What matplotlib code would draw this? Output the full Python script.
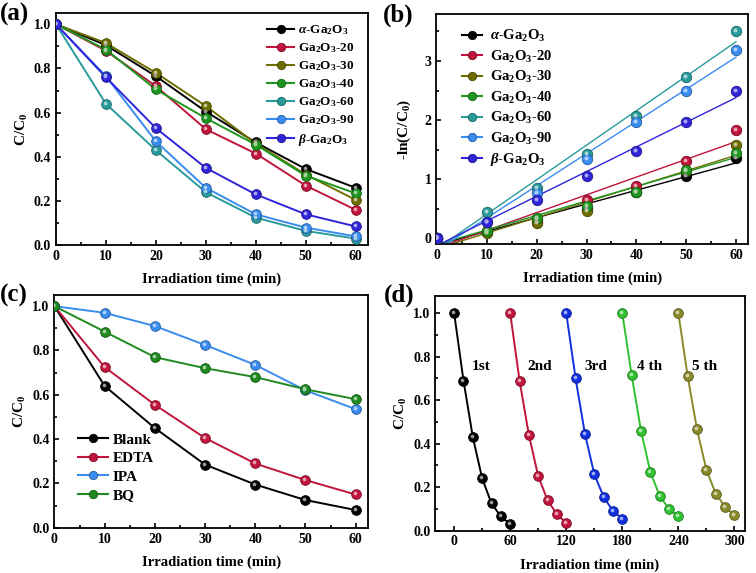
import numpy as np
import matplotlib
matplotlib.use("Agg")
import matplotlib.pyplot as plt
import matplotlib.transforms as mtransforms
from matplotlib.ticker import MultipleLocator

plt.rcParams['font.family'] = ['Liberation Serif', 'DejaVu Serif']
plt.rcParams['font.weight'] = 'bold'
plt.rcParams['mathtext.fontset'] = 'custom'
plt.rcParams['mathtext.rm'] = 'Liberation Serif:bold'
plt.rcParams['mathtext.it'] = 'Liberation Serif:italic:bold'
plt.rcParams['mathtext.bf'] = 'Liberation Serif:bold'
plt.rcParams['axes.linewidth'] = 1.3

# ---------------- data ----------------
time = [0, 10, 20, 30, 40, 50, 60]

labels_a = [r'$\alpha$-Ga$_2$O$_3$', 'Ga$_2$O$_3$-20', 'Ga$_2$O$_3$-30', 'Ga$_2$O$_3$-40',
            'Ga$_2$O$_3$-60', 'Ga$_2$O$_3$-90', r'$\beta$-Ga$_2$O$_3$']
colors_a = ['#000000', '#c0143c', '#6e6e00', '#1e961e', '#2a9b9b', '#3a8cf0', '#3024d8']

alpha_ga = [1.0, 0.905, 0.765, 0.605, 0.465, 0.345, 0.26]
ga_20 = [1.0, 0.88, 0.72, 0.525, 0.415, 0.27, 0.16]
ga_30 = [1.0, 0.915, 0.78, 0.63, 0.46, 0.32, 0.205]
ga_40 = [1.0, 0.885, 0.705, 0.575, 0.455, 0.315, 0.235]
ga_60 = [1.0, 0.64, 0.43, 0.24, 0.125, 0.065, 0.03]
ga_90 = [1.0, 0.765, 0.47, 0.26, 0.14, 0.08, 0.04]
beta_ga = [1.0, 0.76, 0.53, 0.35, 0.23, 0.14, 0.085]

# -ln(C/C0) values
ln_alpha = [0.0, 0.10, 0.27, 0.50, 0.78, 1.06, 1.35]
ln_20 = [0.0, 0.13, 0.33, 0.65, 0.89, 1.31, 1.83]
ln_30 = [0.0, 0.09, 0.25, 0.46, 0.78, 1.14, 1.58]
ln_40 = [0.0, 0.12, 0.35, 0.55, 0.79, 1.16, 1.45]
ln_60 = [0.0, 0.44, 0.85, 1.43, 2.07, 2.73, 3.51]
ln_90 = [0.0, 0.27, 0.76, 1.34, 1.97, 2.50, 3.19]
ln_beta = [0.0, 0.28, 0.64, 1.05, 1.47, 1.97, 2.49]

labels_c = ['Blank', 'EDTA', 'IPA', 'BQ']
colors_c = ['#000000', '#c0143c', '#3a8cf0', '#1e8a1e']
blank = [1.0, 0.64, 0.45, 0.285, 0.195, 0.125, 0.08]
edta = [1.0, 0.725, 0.555, 0.405, 0.29, 0.215, 0.15]
ipa = [1.0, 0.97, 0.91, 0.825, 0.735, 0.62, 0.535]
bq = [1.0, 0.885, 0.77, 0.72, 0.68, 0.625, 0.58]

cycle_labels = ['1st', '2nd', '3rd', '4 th', '5 th']
cycle_start = [0, 60, 120, 180, 240]
colors_d = ['#000000', '#c0143c', '#1030e0', '#30c030', '#8a8a2a']
cycle1 = [1.0, 0.69, 0.43, 0.24, 0.125, 0.065, 0.03]
cycle2 = [1.0, 0.69, 0.44, 0.25, 0.14, 0.075, 0.035]
cycle3 = [1.0, 0.70, 0.445, 0.26, 0.155, 0.09, 0.055]
cycle4 = [1.0, 0.715, 0.46, 0.27, 0.16, 0.10, 0.065]
cycle5 = [1.0, 0.71, 0.465, 0.28, 0.17, 0.11, 0.07]
cycle_label_x = [29, 92, 152, 209, 268]
cycle_label_y = 0.755

# ---------------- helpers ----------------
def lighten(c, f=0.55):
    rgb = np.array(matplotlib.colors.to_rgb(c))
    return tuple(rgb + (1 - rgb) * f)

def darken(c, f=0.35):
    rgb = np.array(matplotlib.colors.to_rgb(c))
    return tuple(rgb * (1 - f))

def balls(ax, x, y, color, ms=7, zorder=3, clip=True):
    ax.plot(x, y, 'o', ms=ms, mfc=color, mec=darken(color), mew=0.6, zorder=zorder, clip_on=clip)
    off = mtransforms.offset_copy(ax.transData, fig=ax.figure, x=-1.0, y=1.0, units='dots')
    ax.plot(x, y, 'o', ms=ms * 0.38, mfc=lighten(color, 0.6), mec='none', transform=off,
            zorder=zorder + 0.1, clip_on=clip)

def style(ax):
    ax.tick_params(direction='in', which='both', top=False, right=False, labelsize=10, width=1.2)
    ax.tick_params(which='major', length=3.5)
    ax.tick_params(which='minor', length=2.5)
    for lab in ax.get_xticklabels() + ax.get_yticklabels():
        lab.set_fontweight('bold')
    ax.set_xlabel('Irradiation time (min)', fontsize=10.5, fontweight='bold', labelpad=7)

def legend_handles(colors, labels, line=True):
    hs = []
    for c, l in zip(colors, labels):
        h, = plt.plot([], [], '-' if line else 'none', color=c, lw=1.5, marker='o', ms=6,
                      mfc=c, mec=darken(c), mew=0.6, label=l)
        hs.append(h)
    return hs

fig = plt.figure(figsize=(7.56, 5.73), dpi=100)

# ---------------- (a) ----------------
ax_a = fig.add_axes([0.074, 0.572, 0.413, 0.405])
series_a = [alpha_ga, ga_20, ga_30, ga_40, ga_60, ga_90, beta_ga]
for ys, c in zip(series_a, colors_a):
    ax_a.plot(time, ys, '-', color=c, lw=1.4, zorder=2)
    balls(ax_a, time, ys, c)
ax_a.set_xlim(0, 62.5)
ax_a.set_ylim(0, 1.05)
ax_a.xaxis.set_major_locator(MultipleLocator(10))
ax_a.xaxis.set_minor_locator(MultipleLocator(5))
ax_a.yaxis.set_major_locator(MultipleLocator(0.2))
ax_a.yaxis.set_minor_locator(MultipleLocator(0.1))
ax_a.yaxis.set_major_formatter(matplotlib.ticker.FormatStrFormatter('%.1f'))
style(ax_a)
ax_a.set_ylabel('C/C$_0$', fontsize=11, fontweight='bold', labelpad=3)
ax_a.legend(handles=legend_handles(colors_a, labels_a), loc='upper right', frameon=False,
            fontsize=9.5, handlelength=2.0, handletextpad=0.3, labelspacing=0.32,
            borderaxespad=0.3, bbox_to_anchor=(0.985, 0.995))

# ---------------- (b) ----------------
ax_b = fig.add_axes([0.577, 0.574, 0.413, 0.402])
series_b = [ln_alpha, ln_20, ln_30, ln_40, ln_60, ln_90, ln_beta]
xfit = np.array([0, 60])
for ys, c in zip(series_b, colors_a):
    k, b = np.polyfit(time, ys, 1)
    ax_b.plot(xfit, k * xfit + b, '-', color=c, lw=1.0, zorder=2)
for ys, c in zip(series_b, colors_a):
    balls(ax_b, time, ys, c, ms=7.5)
ax_b.set_xlim(-0.2, 62.5)
ax_b.set_ylim(-0.1, 3.8)
ax_b.xaxis.set_major_locator(MultipleLocator(10))
ax_b.xaxis.set_minor_locator(MultipleLocator(5))
ax_b.yaxis.set_major_locator(MultipleLocator(1))
ax_b.yaxis.set_minor_locator(MultipleLocator(0.5))
style(ax_b)
ax_b.set_ylabel('-ln(C/C$_0$)', fontsize=11, fontweight='bold', labelpad=8)
ax_b.legend(handles=legend_handles(colors_a, labels_a, line=False), loc='upper left', frameon=False,
            fontsize=10.5, handlelength=1.4, handletextpad=0.5, labelspacing=0.3,
            bbox_to_anchor=(0.04, 0.995))

# ---------------- (c) ----------------
ax_c = fig.add_axes([0.072, 0.079, 0.415, 0.406])
series_c = [blank, edta, ipa, bq]
for ys, c in zip(series_c, colors_c):
    ax_c.plot(time, ys, '-', color=c, lw=1.4, zorder=2)
    balls(ax_c, time, ys, c)
ax_c.set_xlim(0, 62.5)
ax_c.set_ylim(0, 1.05)
ax_c.xaxis.set_major_locator(MultipleLocator(10))
ax_c.xaxis.set_minor_locator(MultipleLocator(5))
ax_c.yaxis.set_major_locator(MultipleLocator(0.2))
ax_c.yaxis.set_minor_locator(MultipleLocator(0.1))
ax_c.yaxis.set_major_formatter(matplotlib.ticker.FormatStrFormatter('%.1f'))
style(ax_c)
ax_c.set_ylabel('C/C$_0$', fontsize=11, fontweight='bold', labelpad=3)
ax_c.legend(handles=legend_handles(colors_c, labels_c), loc='lower left', frameon=False,
            fontsize=11, handlelength=2.0, handletextpad=0.3, labelspacing=0.32,
            bbox_to_anchor=(0.03, 0.05))

# ---------------- (d) ----------------
ax_d = fig.add_axes([0.576, 0.074, 0.409, 0.41])
series_d = [cycle1, cycle2, cycle3, cycle4, cycle5]
for ys, s, c, lab, lx in zip(series_d, cycle_start, colors_d, cycle_labels, cycle_label_x):
    xs = [s + t for t in time]
    ax_d.plot(xs, ys, '-', color=c, lw=1.4, zorder=2)
    balls(ax_d, xs, ys, c)
    ax_d.text(lx, cycle_label_y, lab, fontsize=11, fontweight='bold', ha='center', va='center')
ax_d.set_xlim(-20, 311)
ax_d.set_ylim(0, 1.08)
ax_d.xaxis.set_major_locator(MultipleLocator(60))
ax_d.xaxis.set_minor_locator(MultipleLocator(30))
ax_d.yaxis.set_major_locator(MultipleLocator(0.2))
ax_d.yaxis.set_minor_locator(MultipleLocator(0.1))
ax_d.yaxis.set_major_formatter(matplotlib.ticker.FormatStrFormatter('%.1f'))
style(ax_d)
ax_d.set_ylabel('C/C$_0$', fontsize=11, fontweight='bold', labelpad=3)

# panel labels
for lab, (x, y) in zip(['(a)', '(b)', '(c)', '(d)'],
                       [(0.0, 0.974), (0.506, 0.974), (0.0, 0.484), (0.508, 0.484)]):
    fig.text(x, y, lab, fontsize=18, fontweight='bold', ha='left', va='center')

fig.savefig('out.png', dpi=100)
